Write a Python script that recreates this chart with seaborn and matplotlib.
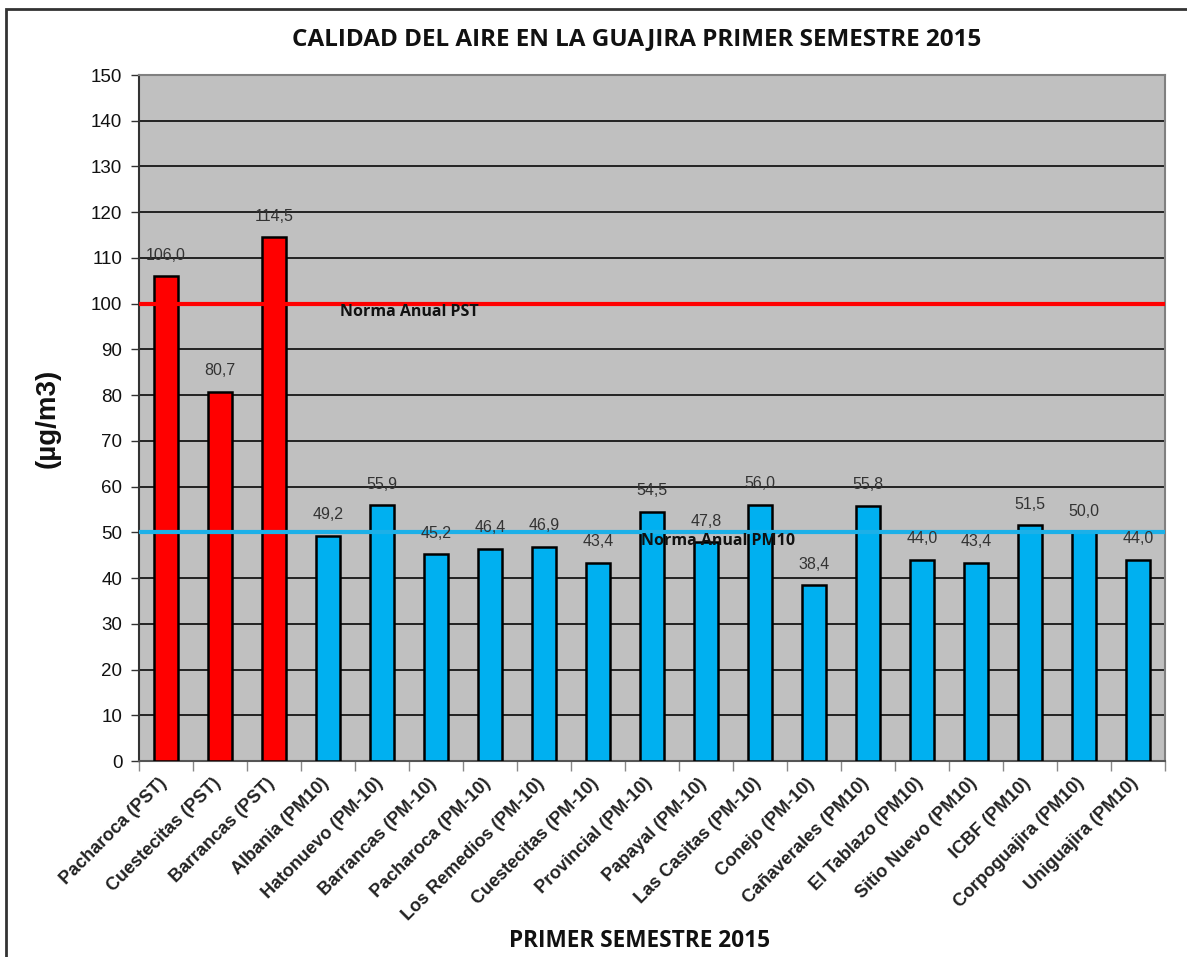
import matplotlib
matplotlib.use("Agg")
import matplotlib.pyplot as plt
import matplotlib.transforms as mtransforms
import numpy as np
import pandas as pd
import seaborn as sns
from matplotlib.patches import Rectangle

estaciones = ["Pacharoca (PST)", "Cuestecitas (PST)", "Barrancas (PST)", "Albania (PM10)",
              "Hatonuevo (PM-10)", "Barrancas (PM-10)", "Pacharoca (PM-10)", "Los Remedios (PM-10)",
              "Cuestecitas (PM-10)", "Provincial (PM-10)", "Papayal (PM-10)", "Las Casitas (PM-10)",
              "Conejo (PM-10)", "Cañaverales (PM10)", "El Tablazo (PM10)", "Sitio Nuevo (PM10)",
              "ICBF (PM10)", "Corpoguajira (PM10)", "Uniguajira (PM10)"]
valores = [106.0, 80.7, 114.5, 49.2, 55.9, 45.2, 46.4, 46.9, 43.4, 54.5, 47.8, 56.0,
           38.4, 55.8, 44.0, 43.4, 51.5, 50.0, 44.0]
tipo = ["PST"] * 3 + ["PM10"] * 16
norma_pst = 100
norma_pm10 = 50

df = pd.DataFrame({"estacion": estaciones, "valor": valores, "tipo": tipo})

sns.set_style("white")
plt.rcParams["font.family"] = ["Liberation Sans", "DejaVu Sans"]

fig = plt.figure(figsize=(11.87, 9.57), dpi=100)
ax = fig.add_axes([139 / 1187, 1 - 761 / 957, (1165 - 139) / 1187, (761 - 75) / 957])
ax.set_facecolor("#C0C0C0")

sns.barplot(data=df, x="estacion", y="valor", hue="tipo", dodge=False, saturation=1,
            palette={"PST": "#FF0000", "PM10": "#00B0F0"}, width=0.43,
            edgecolor="black", linewidth=1.8, legend=False, ax=ax, zorder=3)

ax.set_ylim(0, 150)
ax.set_xlim(-0.5, len(estaciones) - 0.5)
ax.set_yticks(np.arange(0, 151, 10))
ax.yaxis.grid(True, color="#222222", linewidth=1.4, zorder=0)
ax.set_axisbelow(True)
for s in ax.spines.values():
    s.set_color("#808080")
    s.set_linewidth(1.5)
ax.spines["left"].set_color("#333333")
ax.spines["bottom"].set_color("#555555")

ax.tick_params(axis="y", labelsize=13.5, length=6, width=1, color="#333333", direction="out",
               left=True, pad=6, labelcolor="#111111")
ax.set_xticks(range(len(estaciones)))
ax.set_xticklabels(estaciones, rotation=45, ha="right", rotation_mode="anchor",
                   fontsize=13, fontweight="bold", color="#222222")
ax.tick_params(axis="x", length=0, pad=10)
shift = mtransforms.ScaledTranslation(-8 / 100, 0, fig.dpi_scale_trans)
for lbl in ax.get_xticklabels():
    lbl.set_transform(lbl.get_transform() + shift)
ax.set_xticks(np.arange(-0.5, len(estaciones), 1), minor=True)
ax.tick_params(axis="x", which="minor", length=7, width=1, color="#888888", bottom=True)

for i, v in enumerate(valores):
    ax.text(i, v + 3.0, f"{v:.1f}".replace(".", ","), ha="center", va="bottom",
            fontsize=11.5, color="#333333", zorder=5)

ax.axhline(norma_pst, color="#FF0000", linewidth=3, zorder=4)
ax.axhline(norma_pm10, color="#1CB0E8", linewidth=3, zorder=4)
ax.text(3.22, 98.1, "Norma Anual PST", fontsize=11.5, fontweight="bold",
        family=["Open Sans", "DejaVu Sans"], va="center", ha="left", color="#111111", zorder=5)
ax.text(8.8, 48.2, "Norma Anual PM10", fontsize=11.5, fontweight="bold",
        family=["Open Sans", "DejaVu Sans"], va="center", ha="left", color="#111111", zorder=5)

ax.set_xlabel("")
ax.set_ylabel("(µg/m3)", fontsize=20, fontweight="bold", labelpad=22, color="#111111")
fig.text(637 / 1187, 1 - 39 / 957, "CALIDAD DEL AIRE EN LA GUAJIRA PRIMER SEMESTRE 2015",
         ha="center", va="center", fontsize=17.5, fontweight="bold",
         family=["Open Sans", "DejaVu Sans"], color="#111111")
fig.text(640 / 1187, 1 - 941 / 957, "PRIMER SEMESTRE 2015", ha="center", va="center",
         fontsize=16.3, fontweight="bold", family=["Open Sans", "DejaVu Sans"], color="#111111")

fig.patches.append(Rectangle((6 / 1187, -0.05), 1.2, 1 - 9 / 957 + 0.05, transform=fig.transFigure,
                             fill=False, edgecolor="#333333", linewidth=2))

fig.savefig("out.png", dpi=100)
